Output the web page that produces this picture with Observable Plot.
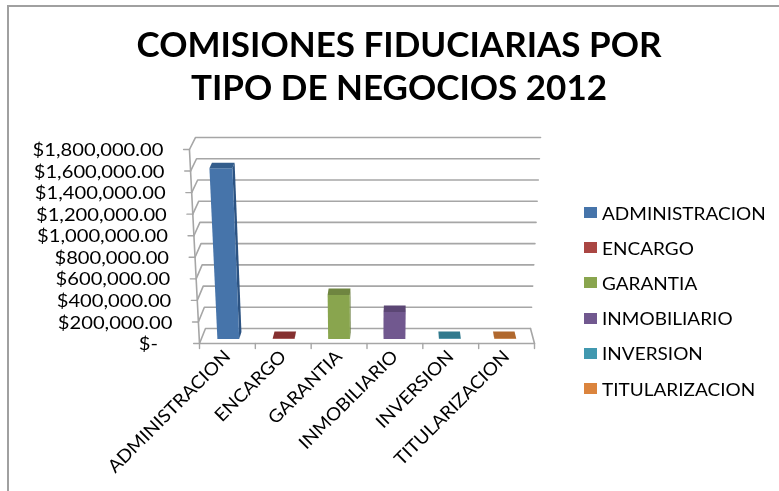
<!DOCTYPE html>
<html><head><meta charset="utf-8">
<script src="https://cdn.jsdelivr.net/npm/d3@7"></script>
<script src="https://cdn.jsdelivr.net/npm/@observablehq/plot@0.6"></script>
<style>
html,body{margin:0;padding:0;background:#fff;overflow:hidden}
#page{position:relative;width:779px;height:491px;overflow:hidden;font-family:Lato,sans-serif;color:#000;filter:blur(0.35px)}
#frame{position:absolute;left:6.5px;top:5px;width:800px;height:520px;border:2px solid #a0a0a0;box-sizing:border-box}
#title{position:absolute;left:0;top:22px;width:798px;text-align:center;font-weight:700;font-size:35px;line-height:43px}
#legend{position:absolute;left:584px;top:195px}
.row{position:absolute;left:0;height:35px;display:flex;align-items:center;white-space:nowrap;font-size:18px}
.sw{width:13px;height:11px;margin-right:5px;flex:none}
.lt{display:inline-block;transform:scaleX(1.055);transform-origin:left center}
svg{position:absolute;left:0;top:0;background:none}
</style></head><body>
<div id="page"><div id="frame"></div>
<div id="title">COMISIONES FIDUCIARIAS POR<br>TIPO DE NEGOCIOS 2012</div>
<div id="chart"></div><div id="legend"></div></div>
<script>
const categories=["ADMINISTRACION","ENCARGO","GARANTIA","INMOBILIARIO","INVERSION","TITULARIZACION"];
const values=[1590000,6000,410000,250000,6000,6000];
const yTicks=[0,200000,400000,600000,800000,1000000,1200000,1400000,1600000,1800000];
const legendColors=["#4674aa","#aa4643","#89a54e","#71588f","#4198af","#db843d"];
const frontColors=["#4674aa","#953735","#89a54e","#71588f","#31859c","#c0702f"];
const topColors=["#335d8c","#853030","#6f8540","#5b4674","#317a8e","#b0682e"];
const sideColors=["#2c5382","#7a2c2c","#64783a","#523f69","#2a6a7c","#9c5c28"];
const grid="#a6a6a6";
const vMax=1800000, n=categories.length;

// Oblique view of the 3-D chart box, in data units: c = category position, v = value, d = depth 0..1
const lean=-0.18, depthL=0.107, depthR=-0.072, depthB=139000, depthT=111000;
const X=(c,v,d)=>c+(1-2*c/n)*lean*(v/vMax)+d*(depthL*(1-c/n)+depthR*(c/n));
const Y=(c,v,d)=>v+d*(depthB+(depthT-depthB)*(v/vMax));
const P=(c,v,d)=>({x:X(c,v,d),y:Y(c,v,d)});

const hw=0.197, d0=0.27, d1=0.73;
function quad(z,fill,a,b,c,e){
  return [{z,fill,x1:a.x,y1:a.y,x2:e.x,y2:e.y},{z,fill,x1:b.x,y1:b.y,x2:c.x,y2:c.y}];
}
const quads=[];
values.forEach((v,i)=>{
  const l=i+0.5-hw,r=i+0.5+hw;
  if(i<3) quads.push(...quad("s"+i,sideColors[i],P(r,0,d0),P(r,v,d0),P(r,v,d1),P(r,0,d1)));
  else quads.push(...quad("s"+i,sideColors[i],P(l,0,d0),P(l,v,d0),P(l,v,d1),P(l,0,d1)));
  quads.push(...quad("f"+i,frontColors[i],P(l,0,d0),P(l,v,d0),P(r,v,d0),P(r,0,d0)));
  quads.push(...quad("t"+i,topColors[i],P(l,v,d0),P(l,v,d1),P(r,v,d1),P(r,v,d0)));
});

const gridLines=yTicks.flatMap(v=>[P(0,v,0),P(0,v,1),P(n,v,1)].map(p=>({...p,z:v})));
const floor=[P(0,0,0),P(n,0,0),P(n,0,1)];
const leftAxis=[P(0,0,0),P(0,vMax,0)];
const yTickMarks=yTicks.flatMap(v=>[P(0,v,0),{x:X(0,v,0)-0.105,y:v}].map(p=>({...p,z:v})));
const xTickMarks=d3.range(n+1).flatMap(c=>[{x:c,y:0,z:c},{x:c,y:-46000,z:c}]);

const fmt=v=>v===0?"$-\u00a0\u00a0\u00a0":"$"+d3.format(",.2f")(v);
const plot=Plot.plot({
  width:779,height:491,
  marginLeft:199,marginRight:245,marginTop:149,marginBottom:148,
  x:{domain:[0,n],axis:null},y:{domain:[0,vMax],axis:null},
  style:{background:"transparent"},
  marks:[
    Plot.line(gridLines,{x:"x",y:"y",z:"z",stroke:grid,strokeWidth:1.6}),
    Plot.line(floor,{x:"x",y:"y",stroke:grid,strokeWidth:1.6}),
    Plot.line(leftAxis,{x:"x",y:"y",stroke:grid,strokeWidth:1.6}),
    Plot.line(yTickMarks,{x:"x",y:"y",z:"z",stroke:grid,strokeWidth:1.4}),
    Plot.line(xTickMarks,{x:"x",y:"y",z:"z",stroke:grid,strokeWidth:1.4}),
    Plot.area(quads,{x1:"x1",y1:"y1",x2:"x2",y2:"y2",z:"z",fill:"fill",curve:"linear"}),
    Plot.text(yTicks,{x:v=>X(0,v,0),y:v=>v,text:fmt,textAnchor:"end",dx:-26,dy:0.8,fontSize:18,fontFamily:"Lato",fill:"#000"}),
    Plot.axisX({ticks:categories.map((_,i)=>i+0.5),tickFormat:(_,i)=>categories[i],tickSize:0,tickPadding:10,tickRotate:-45,fontSize:18,fontFamily:"Lato",fill:"#000",label:null})
  ]
});
document.getElementById("chart").append(plot);

// widen the labels, as the reference's text is horizontally stretched
function stretch(sel,k){
  plot.querySelectorAll(sel).forEach(t=>{
    t.setAttribute("textLength",t.getComputedTextLength()*k);
    t.setAttribute("lengthAdjust","spacingAndGlyphs");
  });
}
stretch('g[aria-label="text"] text',1.12);
stretch('g[aria-label="x-axis tick label"] text',1.06);

const lg=document.getElementById("legend");
categories.forEach((c,i)=>{
  const r=document.createElement("div");r.className="row";r.style.top=(i*35.2)+"px";
  const s=document.createElement("span");s.className="sw";s.style.background=legendColors[i];
  const t=document.createElement("span");t.className="lt";t.textContent=c;
  r.append(s,t);lg.append(r);
});
</script></body></html>
